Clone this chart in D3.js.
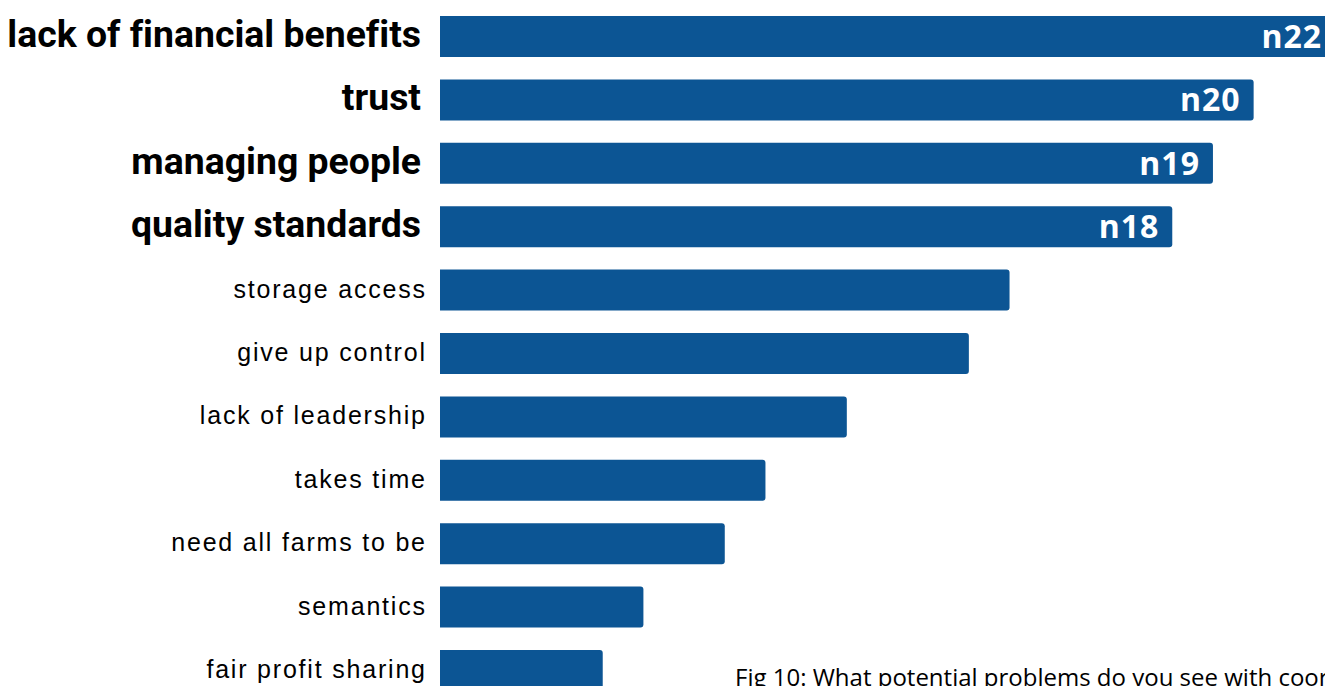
<!DOCTYPE html>
<html>
<head>
<meta charset="utf-8">
<script src="https://cdn.jsdelivr.net/npm/d3@7"></script>
<style>
  body { margin: 0; background: #fff; overflow: hidden; }
  svg { display: block; }
  text { font-variant-ligatures: none; }
</style>
</head>
<body>
<svg id="chart" width="1325" height="686"></svg>
<script>
var categories = ["lack of financial benefits", "trust", "managing people", "quality standards",
    "storage access", "give up control", "lack of leadership", "takes time",
    "need all farms to be", "semantics", "fair profit sharing"];
var counts = [22, 20, 19, 18, 14, 13, 10, 8, 7, 5, 4];
var highlighted = [true, true, true, true, false, false, false, false, false, false, false];
var caption = "Fig 10: What potential problems do you see with coordination?";

var svg = d3.select("#chart");
var barColor = "#0c5594";

var x = d3.scaleLinear()
    .domain([0, 22])
    .range([440, 1335]);

var y = d3.scaleBand()
    .domain(categories)
    .range([16, 691])
    .paddingInner(0.353)
    .paddingOuter(0);

var rows = categories.map(function(c, i) {
    return {name: c, value: counts[i], big: highlighted[i]};
});

// bars, rounded on the right end only
svg.append("g").selectAll("path")
    .data(rows)
  .enter().append("path")
    .attr("fill", barColor)
    .attr("d", function(d) {
        var x0 = x(0), x1 = x(d.value), y0 = y(d.name), h = y.bandwidth(), r = 3;
        return "M" + x0 + "," + y0 +
            "H" + (x1 - r) + "Q" + x1 + "," + y0 + " " + x1 + "," + (y0 + r) +
            "V" + (y0 + h - r) + "Q" + x1 + "," + (y0 + h) + " " + (x1 - r) + "," + (y0 + h) +
            "H" + x0 + "Z";
    });

// category labels (letter-spacing adds a trailing gap, hence the x nudge)
svg.append("g").selectAll("text")
    .data(rows)
  .enter().append("text")
    .attr("x", function(d) { return d.big ? 421 : 426.8; })
    .attr("y", function(d) { return y(d.name) + y.bandwidth() / 2; })
    .attr("dy", function(d) { return d.big ? "0.28em" : "0.3em"; })
    .attr("text-anchor", "end")
    .style("font-family", function(d) { return d.big ? "Roboto" : "'Liberation Sans', Arial"; })
    .style("font-weight", function(d) { return d.big ? 700 : 400; })
    .style("font-size", function(d) { return d.big ? "37.4px" : "25px"; })
    .style("letter-spacing", function(d) { return d.big ? "0px" : "1.8px"; })
    .attr("fill", "#000")
    .text(function(d) { return d.name; });

// n labels on the highlighted bars
svg.append("g").selectAll("text")
    .data(rows.filter(function(d) { return d.big; }))
  .enter().append("text")
    .attr("x", function(d) { return x(d.value) - 13; })
    .attr("y", function(d) { return y(d.name) + y.bandwidth() / 2; })
    .attr("dy", "0.36em")
    .attr("text-anchor", "end")
    .style("font-family", "'Open Sans'")
    .style("font-weight", 700)
    .style("font-size", "32px")
    .style("letter-spacing", "1px")
    .attr("fill", "#fff")
    .text(function(d) { return "n" + d.value; });

svg.append("text")
    .attr("x", 735)
    .attr("y", 686)
    .style("font-family", "'Open Sans'")
    .style("font-size", "24px")
    .attr("fill", "#000")
    .text(caption);
</script>
</body>
</html>
